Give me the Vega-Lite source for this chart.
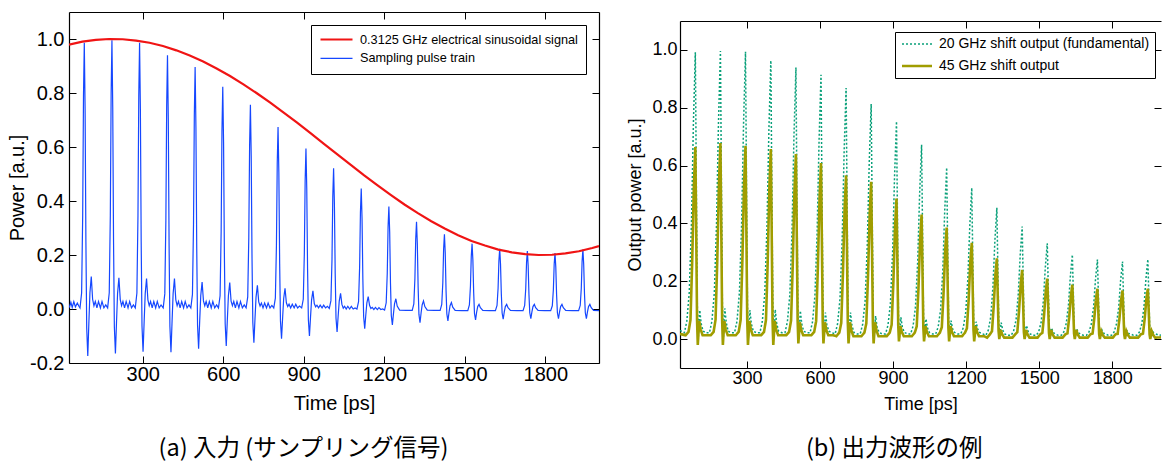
{
"$schema":"https://vega.github.io/schema/vega-lite/v6.json",
"autosize":{"type":"pad"},
"padding":{"left":7,"top":11,"right":0,"bottom":0},
"background":"white",
"datasets":{
"blue":[{"t":26,"v":0.005},{"t":32,"v":0.025},{"t":37,"v":0.006},{"t":43,"v":0.027},{"t":49,"v":0.008},{"t":56,"v":0.022},{"t":62,"v":0.01},
{"t":66,"v":0.004},{"t":72,"v":0.059},{"t":76,"v":0.345},{"t":79,"v":0.789},{"t":82,"v":0.986},{"t":85,"v":0.74},{"t":88,"v":0.247},{"t":91,"v":-0.07},{"t":95,"v":-0.174},{"t":99,"v":-0.052},{"t":103,"v":0.06},{"t":108,"v":0.12},{"t":113,"v":0.036},{"t":118,"v":0.012},{"t":123,"v":0.028},{"t":129,"v":0.004},{"t":135,"v":0.028},{"t":142,"v":0.004},{"t":148,"v":0.028},{"t":155,"v":0.004},{"t":162,"v":0.015},
{"t":169,"v":0.004},{"t":175,"v":0.06},{"t":179,"v":0.348},{"t":182,"v":0.796},{"t":185,"v":0.995},{"t":188,"v":0.746},{"t":191,"v":0.249},{"t":194,"v":-0.066},{"t":198,"v":-0.165},{"t":202,"v":-0.05},{"t":206,"v":0.058},{"t":211,"v":0.116},{"t":216,"v":0.035},{"t":221,"v":0.012},{"t":226,"v":0.028},{"t":232,"v":0.004},{"t":238,"v":0.028},{"t":245,"v":0.004},{"t":251,"v":0.028},{"t":258,"v":0.004},{"t":265,"v":0.015},
{"t":272,"v":0.004},{"t":278,"v":0.059},{"t":282,"v":0.345},{"t":285,"v":0.789},{"t":288,"v":0.986},{"t":291,"v":0.74},{"t":294,"v":0.247},{"t":297,"v":-0.063},{"t":301,"v":-0.158},{"t":305,"v":-0.047},{"t":309,"v":0.057},{"t":314,"v":0.113},{"t":319,"v":0.034},{"t":324,"v":0.012},{"t":329,"v":0.028},{"t":335,"v":0.004},{"t":341,"v":0.028},{"t":348,"v":0.004},{"t":354,"v":0.028},{"t":361,"v":0.004},{"t":368,"v":0.015},
{"t":376,"v":0.004},{"t":382,"v":0.056},{"t":386,"v":0.329},{"t":389,"v":0.752},{"t":392,"v":0.94},{"t":395,"v":0.705},{"t":398,"v":0.235},{"t":401,"v":-0.064},{"t":405,"v":-0.16},{"t":409,"v":-0.048},{"t":413,"v":0.057},{"t":418,"v":0.113},{"t":423,"v":0.034},{"t":428,"v":0.012},{"t":433,"v":0.028},{"t":439,"v":0.004},{"t":445,"v":0.028},{"t":452,"v":0.004},{"t":458,"v":0.028},{"t":465,"v":0.004},{"t":472,"v":0.015},
{"t":479,"v":0.004},{"t":485,"v":0.054},{"t":489,"v":0.314},{"t":492,"v":0.717},{"t":495,"v":0.896},{"t":498,"v":0.672},{"t":501,"v":0.224},{"t":504,"v":-0.059},{"t":508,"v":-0.147},{"t":512,"v":-0.044},{"t":516,"v":0.05},{"t":521,"v":0.1},{"t":526,"v":0.03},{"t":531,"v":0.012},{"t":536,"v":0.028},{"t":542,"v":0.004},{"t":548,"v":0.028},{"t":555,"v":0.004},{"t":561,"v":0.028},{"t":568,"v":0.004},{"t":575,"v":0.015},
{"t":582,"v":0.004},{"t":588,"v":0.049},{"t":592,"v":0.288},{"t":595,"v":0.658},{"t":598,"v":0.823},{"t":601,"v":0.617},{"t":604,"v":0.206},{"t":607,"v":-0.055},{"t":611,"v":-0.137},{"t":615,"v":-0.041},{"t":619,"v":0.049},{"t":624,"v":0.098},{"t":629,"v":0.029},{"t":634,"v":0.012},{"t":639,"v":0.028},{"t":645,"v":0.004},{"t":651,"v":0.028},{"t":658,"v":0.004},{"t":664,"v":0.028},{"t":671,"v":0.004},{"t":678,"v":0.015},
{"t":685,"v":0.004},{"t":691,"v":0.045},{"t":695,"v":0.265},{"t":698,"v":0.605},{"t":701,"v":0.756},{"t":704,"v":0.567},{"t":707,"v":0.189},{"t":710,"v":-0.05},{"t":714,"v":-0.125},{"t":718,"v":-0.038},{"t":722,"v":0.044},{"t":727,"v":0.088},{"t":732,"v":0.026},{"t":737,"v":0.011},{"t":742,"v":0.022},{"t":748,"v":0.004},{"t":754,"v":0.022},{"t":761,"v":0.004},{"t":767,"v":0.022},{"t":774,"v":0.004},{"t":781,"v":0.013},
{"t":788,"v":0.004},{"t":794,"v":0.04},{"t":798,"v":0.236},{"t":801,"v":0.539},{"t":804,"v":0.674},{"t":807,"v":0.506},{"t":810,"v":0.169},{"t":813,"v":-0.044},{"t":817,"v":-0.11},{"t":821,"v":-0.033},{"t":825,"v":0.039},{"t":830,"v":0.077},{"t":835,"v":0.023},{"t":840,"v":0.009},{"t":845,"v":0.018},{"t":851,"v":0.004},{"t":857,"v":0.018},{"t":864,"v":0.004},{"t":870,"v":0.018},{"t":877,"v":0.004},{"t":884,"v":0.011},
{"t":892,"v":0.004},{"t":898,"v":0.036},{"t":902,"v":0.208},{"t":905,"v":0.475},{"t":908,"v":0.594},{"t":911,"v":0.446},{"t":914,"v":0.149},{"t":917,"v":-0.04},{"t":921,"v":-0.1},{"t":925,"v":-0.03},{"t":929,"v":0.034},{"t":934,"v":0.067},{"t":939,"v":0.02},{"t":944,"v":0.008},{"t":949,"v":0.014},{"t":955,"v":0.004},{"t":961,"v":0.014},{"t":968,"v":0.004},{"t":974,"v":0.014},{"t":981,"v":0.004},{"t":988,"v":0.01},
{"t":995,"v":0.002},{"t":1001,"v":0.031},{"t":1005,"v":0.182},{"t":1008,"v":0.417},{"t":1011,"v":0.521},{"t":1014,"v":0.391},{"t":1017,"v":0.13},{"t":1020,"v":-0.034},{"t":1024,"v":-0.085},{"t":1028,"v":-0.026},{"t":1032,"v":0.029},{"t":1037,"v":0.058},{"t":1042,"v":0.017},{"t":1047,"v":0.003},{"t":1052,"v":0.01},{"t":1058,"v":0},{"t":1064,"v":0.01},{"t":1071,"v":0},{"t":1077,"v":0.01},{"t":1084,"v":0},{"t":1091,"v":0.004},
{"t":1098,"v":0},{"t":1104,"v":0.027},{"t":1108,"v":0.156},{"t":1111,"v":0.357},{"t":1114,"v":0.446},{"t":1117,"v":0.335},{"t":1120,"v":0.112},{"t":1123,"v":-0.029},{"t":1127,"v":-0.073},{"t":1131,"v":-0.022},{"t":1135,"v":0.023},{"t":1140,"v":0.046},{"t":1145,"v":0.014},{"t":1150,"v":0.002},{"t":1155,"v":0.006},{"t":1161,"v":-0.002},{"t":1167,"v":0.006},{"t":1174,"v":-0.002},{"t":1180,"v":0.005},{"t":1187,"v":-0.002},{"t":1194,"v":0},
{"t":1201,"v":-0.004},{"t":1207,"v":0.023},{"t":1211,"v":0.133},{"t":1214,"v":0.304},{"t":1217,"v":0.38},{"t":1220,"v":0.285},{"t":1223,"v":0.095},{"t":1226,"v":-0.024},{"t":1230,"v":-0.059},{"t":1234,"v":-0.018},{"t":1238,"v":0.019},{"t":1243,"v":0.038},{"t":1248,"v":0.011},{"t":1257,"v":-0.004},{"t":1282,"v":-0.005},
{"t":1304,"v":-0.005},{"t":1310,"v":0.019},{"t":1314,"v":0.113},{"t":1317,"v":0.258},{"t":1320,"v":0.323},{"t":1323,"v":0.242},{"t":1326,"v":0.081},{"t":1329,"v":-0.02},{"t":1333,"v":-0.051},{"t":1337,"v":-0.015},{"t":1341,"v":0.015},{"t":1346,"v":0.03},{"t":1351,"v":0.009},{"t":1360,"v":-0.004},{"t":1385,"v":-0.005},
{"t":1408,"v":-0.005},{"t":1414,"v":0.017},{"t":1418,"v":0.097},{"t":1421,"v":0.222},{"t":1424,"v":0.277},{"t":1427,"v":0.208},{"t":1430,"v":0.069},{"t":1433,"v":-0.018},{"t":1437,"v":-0.044},{"t":1441,"v":-0.013},{"t":1445,"v":0.012},{"t":1450,"v":0.024},{"t":1455,"v":0.007},{"t":1464,"v":-0.005},{"t":1489,"v":-0.006},
{"t":1511,"v":-0.006},{"t":1517,"v":0.015},{"t":1521,"v":0.085},{"t":1524,"v":0.194},{"t":1527,"v":0.242},{"t":1530,"v":0.182},{"t":1533,"v":0.061},{"t":1536,"v":-0.016},{"t":1540,"v":-0.04},{"t":1544,"v":-0.012},{"t":1548,"v":0.009},{"t":1553,"v":0.017},{"t":1558,"v":0.005},{"t":1567,"v":-0.005},{"t":1592,"v":-0.006},
{"t":1614,"v":-0.006},{"t":1620,"v":0.013},{"t":1624,"v":0.078},{"t":1627,"v":0.178},{"t":1630,"v":0.223},{"t":1633,"v":0.167},{"t":1636,"v":0.056},{"t":1639,"v":-0.015},{"t":1643,"v":-0.038},{"t":1647,"v":-0.011},{"t":1651,"v":0.009},{"t":1656,"v":0.017},{"t":1661,"v":0.005},{"t":1670,"v":-0.005},{"t":1695,"v":-0.006},
{"t":1717,"v":-0.006},{"t":1723,"v":0.013},{"t":1727,"v":0.075},{"t":1730,"v":0.172},{"t":1733,"v":0.215},{"t":1736,"v":0.161},{"t":1739,"v":0.054},{"t":1742,"v":-0.014},{"t":1746,"v":-0.036},{"t":1750,"v":-0.011},{"t":1754,"v":0.009},{"t":1759,"v":0.017},{"t":1764,"v":0.005},{"t":1773,"v":-0.005},{"t":1798,"v":-0.006},
{"t":1820,"v":-0.006},{"t":1826,"v":0.012},{"t":1830,"v":0.072},{"t":1833,"v":0.166},{"t":1836,"v":0.207},{"t":1839,"v":0.155},{"t":1842,"v":0.052},{"t":1845,"v":-0.014},{"t":1849,"v":-0.036},{"t":1853,"v":-0.011},{"t":1857,"v":0.009},{"t":1862,"v":0.017},{"t":1867,"v":0.005},{"t":1876,"v":-0.005},{"t":1901,"v":-0.006},
{"t":1924,"v":-0.006},{"t":1930,"v":0.013},{"t":1934,"v":0.077},{"t":1937,"v":0.176},{"t":1940,"v":0.22},{"t":1943,"v":0.165},{"t":1946,"v":0.055},{"t":1949,"v":-0.014},{"t":1953,"v":-0.036},{"t":1957,"v":-0.011},{"t":1961,"v":0.009},{"t":1966,"v":0.017},{"t":1971,"v":0.005},{"t":1980,"v":-0.005},{"t":2000,"v":-0.006}],
"red":[{"t":25,"v":0.979},{"t":75,"v":0.99},{"t":125,"v":0.997},{"t":175,"v":1.0},{"t":225,"v":0.999},{"t":275,"v":0.994},{"t":325,"v":0.986},{"t":375,"v":0.974},{"t":425,"v":0.958},{"t":475,"v":0.939},{"t":525,"v":0.917},{"t":575,"v":0.891},{"t":625,"v":0.863},{"t":675,"v":0.832},{"t":725,"v":0.799},{"t":775,"v":0.764},{"t":825,"v":0.727},{"t":875,"v":0.69},{"t":925,"v":0.651},{"t":975,"v":0.612},{"t":1025,"v":0.573},{"t":1075,"v":0.534},{"t":1125,"v":0.495},{"t":1175,"v":0.458},{"t":1225,"v":0.422},{"t":1275,"v":0.387},{"t":1325,"v":0.355},{"t":1375,"v":0.325},{"t":1425,"v":0.298},{"t":1475,"v":0.273},{"t":1525,"v":0.252},{"t":1575,"v":0.235},{"t":1625,"v":0.22},{"t":1675,"v":0.21},{"t":1725,"v":0.203},{"t":1775,"v":0.2},{"t":1825,"v":0.201},{"t":1875,"v":0.206},{"t":1925,"v":0.214},{"t":1975,"v":0.226},{"t":2000,"v":0.233}],
"teal":[{"t":25,"v":0.03},
{"t":43,"v":0.022},{"t":53,"v":0.062},{"t":63,"v":0.161},{"t":72,"v":0.397},{"t":80,"v":0.744},{"t":88,"v":0.992},{"t":92,"v":0.546},{"t":96,"v":0.119},{"t":100,"v":0.005},{"t":106,"v":0.1},{"t":112,"v":0.053},{"t":120,"v":0.027},{"t":133,"v":0.022},
{"t":146,"v":0.022},{"t":156,"v":0.062},{"t":166,"v":0.161},{"t":175,"v":0.398},{"t":183,"v":0.747},{"t":191,"v":0.996},{"t":195,"v":0.548},{"t":199,"v":0.12},{"t":203,"v":0.005},{"t":209,"v":0.106},{"t":215,"v":0.056},{"t":223,"v":0.027},{"t":236,"v":0.022},
{"t":249,"v":0.022},{"t":259,"v":0.062},{"t":269,"v":0.161},{"t":278,"v":0.398},{"t":286,"v":0.746},{"t":294,"v":0.994},{"t":298,"v":0.547},{"t":302,"v":0.119},{"t":306,"v":0.005},{"t":312,"v":0.1},{"t":318,"v":0.053},{"t":326,"v":0.027},{"t":339,"v":0.022},
{"t":353,"v":0.022},{"t":363,"v":0.061},{"t":373,"v":0.157},{"t":382,"v":0.385},{"t":390,"v":0.722},{"t":398,"v":0.963},{"t":402,"v":0.53},{"t":406,"v":0.116},{"t":410,"v":0.005},{"t":416,"v":0.102},{"t":422,"v":0.054},{"t":430,"v":0.027},{"t":443,"v":0.022},
{"t":456,"v":0.022},{"t":466,"v":0.06},{"t":476,"v":0.153},{"t":485,"v":0.376},{"t":493,"v":0.704},{"t":501,"v":0.939},{"t":505,"v":0.516},{"t":509,"v":0.113},{"t":513,"v":0.005},{"t":519,"v":0.098},{"t":525,"v":0.052},{"t":533,"v":0.027},{"t":546,"v":0.022},
{"t":559,"v":0.022},{"t":569,"v":0.059},{"t":579,"v":0.15},{"t":588,"v":0.366},{"t":596,"v":0.686},{"t":604,"v":0.914},{"t":608,"v":0.503},{"t":612,"v":0.11},{"t":616,"v":0.005},{"t":622,"v":0.092},{"t":628,"v":0.05},{"t":636,"v":0.027},{"t":649,"v":0.022},
{"t":662,"v":0.018},{"t":672,"v":0.053},{"t":682,"v":0.14},{"t":691,"v":0.347},{"t":699,"v":0.651},{"t":707,"v":0.868},{"t":711,"v":0.477},{"t":715,"v":0.104},{"t":719,"v":0.004},{"t":725,"v":0.092},{"t":731,"v":0.048},{"t":739,"v":0.023},{"t":752,"v":0.018},
{"t":765,"v":0.018},{"t":775,"v":0.051},{"t":785,"v":0.132},{"t":794,"v":0.325},{"t":802,"v":0.61},{"t":810,"v":0.813},{"t":814,"v":0.447},{"t":818,"v":0.098},{"t":822,"v":0.004},{"t":828,"v":0.08},{"t":834,"v":0.043},{"t":842,"v":0.023},{"t":855,"v":0.018},
{"t":869,"v":0.018},{"t":879,"v":0.048},{"t":889,"v":0.123},{"t":898,"v":0.301},{"t":906,"v":0.565},{"t":914,"v":0.753},{"t":918,"v":0.414},{"t":922,"v":0.09},{"t":926,"v":0.004},{"t":932,"v":0.075},{"t":938,"v":0.041},{"t":946,"v":0.023},{"t":959,"v":0.018},
{"t":972,"v":0.018},{"t":982,"v":0.045},{"t":992,"v":0.112},{"t":1001,"v":0.269},{"t":1009,"v":0.504},{"t":1017,"v":0.672},{"t":1021,"v":0.37},{"t":1025,"v":0.081},{"t":1029,"v":0.006},{"t":1035,"v":0.07},{"t":1041,"v":0.039},{"t":1049,"v":0.023},{"t":1062,"v":0.018},
{"t":1075,"v":0.018},{"t":1085,"v":0.042},{"t":1095,"v":0.101},{"t":1104,"v":0.237},{"t":1112,"v":0.445},{"t":1120,"v":0.593},{"t":1124,"v":0.326},{"t":1128,"v":0.071},{"t":1132,"v":0.008},{"t":1138,"v":0.064},{"t":1144,"v":0.036},{"t":1152,"v":0.023},{"t":1165,"v":0.018},
{"t":1178,"v":0.018},{"t":1188,"v":0.039},{"t":1198,"v":0.091},{"t":1207,"v":0.209},{"t":1215,"v":0.392},{"t":1223,"v":0.523},{"t":1227,"v":0.288},{"t":1231,"v":0.063},{"t":1235,"v":0.01},{"t":1241,"v":0.06},{"t":1247,"v":0.035},{"t":1255,"v":0.023},{"t":1268,"v":0.018},
{"t":1281,"v":0.013},{"t":1291,"v":0.031},{"t":1301,"v":0.077},{"t":1310,"v":0.182},{"t":1318,"v":0.341},{"t":1326,"v":0.454},{"t":1330,"v":0.25},{"t":1334,"v":0.054},{"t":1338,"v":0.02},{"t":1344,"v":0.057},{"t":1350,"v":0.031},{"t":1358,"v":0.018},{"t":1371,"v":0.013},
{"t":1385,"v":0.013},{"t":1395,"v":0.029},{"t":1405,"v":0.067},{"t":1414,"v":0.156},{"t":1422,"v":0.292},{"t":1430,"v":0.389},{"t":1434,"v":0.214},{"t":1438,"v":0.047},{"t":1442,"v":0.028},{"t":1448,"v":0.047},{"t":1454,"v":0.027},{"t":1462,"v":0.018},{"t":1475,"v":0.013},
{"t":1488,"v":0.013},{"t":1498,"v":0.026},{"t":1508,"v":0.059},{"t":1517,"v":0.132},{"t":1525,"v":0.248},{"t":1533,"v":0.331},{"t":1537,"v":0.182},{"t":1541,"v":0.04},{"t":1545,"v":0.028},{"t":1551,"v":0.038},{"t":1557,"v":0.023},{"t":1565,"v":0.018},{"t":1578,"v":0.013},
{"t":1591,"v":0.013},{"t":1601,"v":0.025},{"t":1611,"v":0.054},{"t":1620,"v":0.117},{"t":1628,"v":0.219},{"t":1636,"v":0.292},{"t":1640,"v":0.161},{"t":1644,"v":0.035},{"t":1648,"v":0.026},{"t":1654,"v":0.036},{"t":1660,"v":0.022},{"t":1668,"v":0.018},{"t":1681,"v":0.013},
{"t":1694,"v":0.013},{"t":1704,"v":0.024},{"t":1714,"v":0.052},{"t":1723,"v":0.11},{"t":1731,"v":0.206},{"t":1739,"v":0.275},{"t":1743,"v":0.151},{"t":1747,"v":0.033},{"t":1751,"v":0.025},{"t":1757,"v":0.032},{"t":1763,"v":0.021},{"t":1771,"v":0.018},{"t":1784,"v":0.013},
{"t":1797,"v":0.013},{"t":1807,"v":0.024},{"t":1817,"v":0.051},{"t":1826,"v":0.107},{"t":1834,"v":0.201},{"t":1842,"v":0.268},{"t":1846,"v":0.147},{"t":1850,"v":0.032},{"t":1854,"v":0.024},{"t":1860,"v":0.029},{"t":1866,"v":0.019},{"t":1874,"v":0.018},{"t":1887,"v":0.013},
{"t":1901,"v":0.013},{"t":1911,"v":0.024},{"t":1921,"v":0.052},{"t":1930,"v":0.11},{"t":1938,"v":0.207},{"t":1946,"v":0.276},{"t":1950,"v":0.152},{"t":1954,"v":0.033},{"t":1958,"v":0.025},{"t":1964,"v":0.032},{"t":1970,"v":0.021},{"t":1978,"v":0.018},{"t":1991,"v":0.013},{"t":2000,"v":0.014}],
"olive":[{"t":25,"v":0.018},
{"t":48,"v":0.013},{"t":60,"v":0.025},{"t":68,"v":0.066},{"t":75,"v":0.266},{"t":82,"v":0.531},{"t":88,"v":0.664},{"t":92,"v":0.332},{"t":95,"v":0.066},{"t":98,"v":-0.02},{"t":104,"v":0.063},{"t":110,"v":0.033},{"t":118,"v":0.013},{"t":138,"v":0.013},
{"t":151,"v":0.013},{"t":163,"v":0.025},{"t":171,"v":0.067},{"t":178,"v":0.271},{"t":185,"v":0.542},{"t":191,"v":0.678},{"t":195,"v":0.339},{"t":198,"v":0.068},{"t":201,"v":-0.02},{"t":207,"v":0.063},{"t":213,"v":0.033},{"t":221,"v":0.013},{"t":241,"v":0.013},
{"t":254,"v":0.013},{"t":266,"v":0.025},{"t":274,"v":0.066},{"t":281,"v":0.267},{"t":288,"v":0.534},{"t":294,"v":0.668},{"t":298,"v":0.334},{"t":301,"v":0.067},{"t":304,"v":-0.02},{"t":310,"v":0.063},{"t":316,"v":0.033},{"t":324,"v":0.013},{"t":344,"v":0.013},
{"t":358,"v":0.013},{"t":370,"v":0.025},{"t":378,"v":0.066},{"t":385,"v":0.263},{"t":392,"v":0.526},{"t":398,"v":0.657},{"t":402,"v":0.329},{"t":405,"v":0.066},{"t":408,"v":-0.02},{"t":414,"v":0.063},{"t":420,"v":0.033},{"t":428,"v":0.013},{"t":448,"v":0.013},
{"t":461,"v":0.013},{"t":473,"v":0.025},{"t":481,"v":0.064},{"t":488,"v":0.256},{"t":495,"v":0.512},{"t":501,"v":0.64},{"t":505,"v":0.32},{"t":508,"v":0.064},{"t":511,"v":-0.015},{"t":517,"v":0.058},{"t":523,"v":0.031},{"t":531,"v":0.013},{"t":551,"v":0.013},
{"t":564,"v":0.013},{"t":576,"v":0.025},{"t":584,"v":0.062},{"t":591,"v":0.244},{"t":598,"v":0.487},{"t":604,"v":0.609},{"t":608,"v":0.305},{"t":611,"v":0.061},{"t":614,"v":-0.015},{"t":620,"v":0.058},{"t":626,"v":0.031},{"t":634,"v":0.013},{"t":654,"v":0.013},
{"t":667,"v":0.01},{"t":679,"v":0.022},{"t":687,"v":0.055},{"t":694,"v":0.226},{"t":701,"v":0.453},{"t":707,"v":0.566},{"t":711,"v":0.283},{"t":714,"v":0.057},{"t":717,"v":-0.015},{"t":723,"v":0.058},{"t":729,"v":0.029},{"t":737,"v":0.01},{"t":757,"v":0.01},
{"t":770,"v":0.01},{"t":782,"v":0.022},{"t":790,"v":0.054},{"t":797,"v":0.218},{"t":804,"v":0.435},{"t":810,"v":0.544},{"t":814,"v":0.272},{"t":817,"v":0.054},{"t":820,"v":-0.015},{"t":826,"v":0.058},{"t":832,"v":0.029},{"t":840,"v":0.01},{"t":860,"v":0.01},
{"t":874,"v":0.01},{"t":886,"v":0.022},{"t":894,"v":0.049},{"t":901,"v":0.194},{"t":908,"v":0.389},{"t":914,"v":0.486},{"t":918,"v":0.243},{"t":921,"v":0.049},{"t":924,"v":-0.008},{"t":930,"v":0.045},{"t":936,"v":0.024},{"t":944,"v":0.01},{"t":964,"v":0.01},
{"t":977,"v":0.01},{"t":989,"v":0.022},{"t":997,"v":0.044},{"t":1004,"v":0.172},{"t":1011,"v":0.345},{"t":1017,"v":0.431},{"t":1021,"v":0.216},{"t":1024,"v":0.043},{"t":1027,"v":-0.008},{"t":1033,"v":0.045},{"t":1039,"v":0.024},{"t":1047,"v":0.01},{"t":1067,"v":0.01},
{"t":1080,"v":0.01},{"t":1092,"v":0.022},{"t":1100,"v":0.041},{"t":1107,"v":0.154},{"t":1114,"v":0.309},{"t":1120,"v":0.386},{"t":1124,"v":0.193},{"t":1127,"v":0.039},{"t":1130,"v":-0.008},{"t":1136,"v":0.045},{"t":1142,"v":0.024},{"t":1150,"v":0.01},{"t":1170,"v":0.01},
{"t":1183,"v":0.01},{"t":1195,"v":0.022},{"t":1203,"v":0.037},{"t":1210,"v":0.133},{"t":1217,"v":0.266},{"t":1223,"v":0.333},{"t":1227,"v":0.167},{"t":1230,"v":0.033},{"t":1233,"v":-0.008},{"t":1239,"v":0.045},{"t":1245,"v":0.024},{"t":1253,"v":0.01},{"t":1273,"v":0.01},
{"t":1286,"v":0.005},{"t":1298,"v":0.017},{"t":1306,"v":0.027},{"t":1313,"v":0.112},{"t":1320,"v":0.223},{"t":1326,"v":0.279},{"t":1330,"v":0.14},{"t":1333,"v":0.028},{"t":1336,"v":0},{"t":1342,"v":0.032},{"t":1348,"v":0.016},{"t":1356,"v":0.005},{"t":1376,"v":0.005},
{"t":1390,"v":0.005},{"t":1402,"v":0.017},{"t":1410,"v":0.024},{"t":1417,"v":0.096},{"t":1424,"v":0.191},{"t":1430,"v":0.239},{"t":1434,"v":0.12},{"t":1437,"v":0.024},{"t":1440,"v":0},{"t":1446,"v":0.032},{"t":1452,"v":0.016},{"t":1460,"v":0.005},{"t":1480,"v":0.005},
{"t":1493,"v":0.005},{"t":1505,"v":0.017},{"t":1513,"v":0.022},{"t":1520,"v":0.084},{"t":1527,"v":0.167},{"t":1533,"v":0.209},{"t":1537,"v":0.105},{"t":1540,"v":0.021},{"t":1543,"v":0},{"t":1549,"v":0.032},{"t":1555,"v":0.016},{"t":1563,"v":0.005},{"t":1583,"v":0.005},
{"t":1596,"v":0.005},{"t":1608,"v":0.017},{"t":1616,"v":0.02},{"t":1623,"v":0.075},{"t":1630,"v":0.15},{"t":1636,"v":0.188},{"t":1640,"v":0.094},{"t":1643,"v":0.019},{"t":1646,"v":0},{"t":1652,"v":0.032},{"t":1658,"v":0.016},{"t":1666,"v":0.005},{"t":1686,"v":0.005},
{"t":1699,"v":0.005},{"t":1711,"v":0.017},{"t":1719,"v":0.019},{"t":1726,"v":0.07},{"t":1733,"v":0.139},{"t":1739,"v":0.174},{"t":1743,"v":0.087},{"t":1746,"v":0.017},{"t":1749,"v":0},{"t":1755,"v":0.027},{"t":1761,"v":0.014},{"t":1769,"v":0.005},{"t":1789,"v":0.005},
{"t":1802,"v":0.005},{"t":1814,"v":0.017},{"t":1822,"v":0.018},{"t":1829,"v":0.067},{"t":1836,"v":0.134},{"t":1842,"v":0.168},{"t":1846,"v":0.084},{"t":1849,"v":0.017},{"t":1852,"v":0},{"t":1858,"v":0.027},{"t":1864,"v":0.014},{"t":1872,"v":0.005},{"t":1892,"v":0.005},
{"t":1906,"v":0.005},{"t":1918,"v":0.017},{"t":1926,"v":0.019},{"t":1933,"v":0.07},{"t":1940,"v":0.139},{"t":1946,"v":0.174},{"t":1950,"v":0.087},{"t":1953,"v":0.017},{"t":1956,"v":0},{"t":1962,"v":0.027},{"t":1968,"v":0.014},{"t":1976,"v":0.005},{"t":2000,"v":0.006}]
},
"spacing":26,
"resolve":{"scale":{"color":"independent","strokeDash":"independent","strokeWidth":"independent"},"legend":{"color":"independent","strokeDash":"independent","strokeWidth":"independent"}},
"hconcat":[
{
"width":530,"height":351,
"title":{"text":"(a) 入力 (サンプリング信号)","orient":"bottom","anchor":"middle","frame":"bounds","font":"Noto Sans CJK JP","fontSize":23.5,"fontWeight":"normal","color":"#000","offset":24},
"layer":[
{"data":{"name":"blue"},"mark":{"type":"line","clip":true},
"encoding":{
"x":{"field":"t","type":"quantitative","scale":{"domain":[25,2000],"nice":false,"zero":false},"axis":{"orient":"bottom","values":[300,600,900,1200,1500,1800],"format":"d","title":"Time [ps]","labelFontSize":20,"titleFontSize":20,"labelPadding":8,"titlePadding":9}},
"y":{"field":"v","type":"quantitative","scale":{"domain":[-0.2,1.1],"nice":false,"zero":false},"axis":{"orient":"left","values":[-0.2,0,0.2,0.4,0.6,0.8,1.0],"labelExpr":"datum.value < -0.001 ? '-' + format(-datum.value, '.1f') : format(abs(datum.value), '.1f')","title":"Power [a.u.]","labelFontSize":20,"titleFontSize":20,"labelPadding":12,"titlePadding":2}},
"color":{"datum":"Sampling pulse train","type":"nominal","scale":{"domain":["0.3125 GHz electrical sinusoidal signal","Sampling pulse train"],"range":["#f01414","#1547ff"]},
"legend":{"orient":"none","legendX":242,"legendY":13,"title":null,"strokeColor":"#000","fillColor":"#fff","padding":8,"labelFont":"Liberation Sans","labelFontSize":12.7,"labelColor":"#000","symbolType":"M-1,0H5.4","symbolSize":100,"labelOffset":28,"rowPadding":5,"labelLimit":400}},
"strokeWidth":{"datum":"Sampling pulse train","type":"ordinal","scale":{"domain":["0.3125 GHz electrical sinusoidal signal","Sampling pulse train"],"range":[2.2,1.2]},"legend":null}
}},
{"data":{"name":"red"},"mark":{"type":"line","clip":true},
"encoding":{
"x":{"field":"t","type":"quantitative","axis":{"orient":"top","values":[300,600,900,1200,1500,1800],"labels":false,"title":null}},
"y":{"field":"v","type":"quantitative","axis":{"orient":"right","values":[-0.2,0,0.2,0.4,0.6,0.8,1.0],"labels":false,"title":null}},
"color":{"datum":"0.3125 GHz electrical sinusoidal signal","type":"nominal"},
"strokeWidth":{"datum":"0.3125 GHz electrical sinusoidal signal","type":"ordinal"}
}}
],
"resolve":{"axis":{"x":"independent","y":"independent"}}
},
{
"spacing":0,
"vconcat":[
{"width":481,"height":8,"data":{"values":[]},"mark":{"type":"point","opacity":0}},
{
"width":481,"height":347,
"title":{"text":"(b) 出力波形の例","orient":"bottom","anchor":"middle","frame":"bounds","font":"Noto Sans CJK JP","fontSize":23.5,"fontWeight":"normal","color":"#000","offset":24},
"layer":[
{"data":{"name":"teal"},"mark":{"type":"line","clip":true},
"encoding":{
"x":{"field":"t","type":"quantitative","scale":{"domain":[25,2000],"nice":false,"zero":false},"axis":{"orient":"bottom","values":[300,600,900,1200,1500,1800],"format":"d","title":"Time [ps]","labelFontSize":18,"titleFontSize":18,"labelPadding":8,"titlePadding":8}},
"y":{"field":"v","type":"quantitative","scale":{"domain":[-0.1,1.1],"nice":false,"zero":false},"axis":{"orient":"left","values":[0,0.2,0.4,0.6,0.8,1.0],"format":".1f","title":"Output power [a.u.]","labelFontSize":18,"titleFontSize":18,"labelPadding":10,"titlePadding":7}},
"color":{"datum":"20 GHz shift output (fundamental)","type":"nominal","scale":{"domain":["20 GHz shift output (fundamental)","45 GHz shift output"],"range":["#0aa07a","#a09d00"]},
"legend":{"orient":"none","legendX":215,"legendY":20,"title":null,"strokeColor":"#000","fillColor":"#fff","padding":5,"labelFont":"Liberation Sans","labelFontSize":14,"labelColor":"#000","symbolType":"M-1,0H5","symbolSize":100,"labelOffset":25,"rowPadding":8,"labelLimit":400}},
"strokeDash":{"datum":"20 GHz shift output (fundamental)","type":"nominal","scale":{"domain":["20 GHz shift output (fundamental)","45 GHz shift output"],"range":[[2,2],[1,0]]}},
"strokeWidth":{"datum":"20 GHz shift output (fundamental)","type":"ordinal","scale":{"domain":["20 GHz shift output (fundamental)","45 GHz shift output"],"range":[1.5,2.6]},"legend":null}
}},
{"data":{"name":"olive"},"mark":{"type":"line","clip":true},
"encoding":{
"x":{"field":"t","type":"quantitative","axis":{"orient":"top","values":[300,600,900,1200,1500,1800],"labels":false,"title":null}},
"y":{"field":"v","type":"quantitative","axis":{"orient":"right","values":[0,0.2,0.4,0.6,0.8,1.0],"labels":false,"title":null,"domain":false}},
"color":{"datum":"45 GHz shift output","type":"nominal"},
"strokeDash":{"datum":"45 GHz shift output","type":"nominal"},
"strokeWidth":{"datum":"45 GHz shift output","type":"ordinal"}
}}
],
"resolve":{"axis":{"x":"independent","y":"independent"}}
}
]
}
],
"config":{
"view":{"stroke":null},
"axis":{"grid":false,"domainColor":"#000","domainWidth":1.2,"tickColor":"#000","tickWidth":1,"tickSize":-7,"labelColor":"#000","titleColor":"#000","labelFont":"Liberation Sans","titleFont":"Liberation Sans","titleFontWeight":"normal"}
}
}
